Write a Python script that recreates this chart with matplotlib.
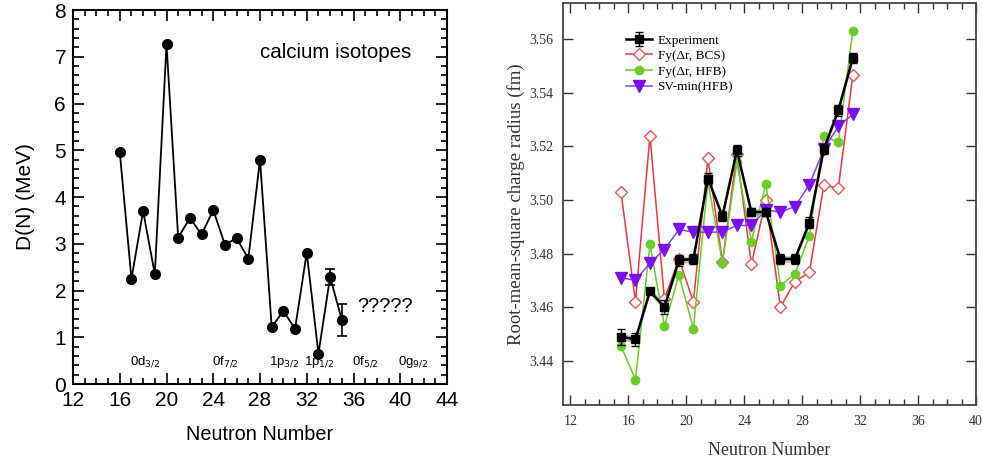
import matplotlib

matplotlib.use("Agg")
import matplotlib.pyplot as plt
import numpy as np
from matplotlib.ticker import MultipleLocator

# left panel: D(N) for calcium isotopes
n_left = [16, 17, 18, 19, 20, 21, 22, 23, 24, 25, 26, 27, 28, 29, 30, 31, 32, 33, 34, 35]
d_left = [4.97, 2.25, 3.70, 2.35, 7.27, 3.13, 3.55, 3.20, 3.72, 2.98, 3.12, 2.68,
          4.80, 1.22, 1.56, 1.18, 2.81, 0.65, 2.29, 1.37]
d_err = [0, 0, 0, 0, 0, 0, 0, 0, 0, 0, 0, 0, 0, 0, 0, 0, 0, 0, 0.17, 0.335]
shell_labels = [r"0d$_{3/2}$", r"0f$_{7/2}$", r"1p$_{3/2}$", r"1p$_{1/2}$", r"0f$_{5/2}$", r"0g$_{9/2}$"]
shell_pos = [18.2, 25.0, 30.1, 33.1, 37.0, 41.1]

# right panel: charge radii
n_right = [15.5, 16.5, 17.5, 18.5, 19.5, 20.5, 21.5, 22.5, 23.5, 24.5, 25.5, 26.5,
           27.5, 28.5, 29.5, 30.5, 31.5]
r_exp = [3.449, 3.448, 3.466, 3.460, 3.4775, 3.478, 3.508, 3.494, 3.5185, 3.4955,
         3.4955, 3.478, 3.478, 3.4915, 3.519, 3.5335, 3.553]
r_exp_err = [0.003, 0.0025, 0.001, 0.0025, 0.002, 0.002, 0.002, 0.002, 0.002, 0.0015,
             0.0015, 0.002, 0.002, 0.002, 0.002, 0.002, 0.002]
r_bcs = [3.503, 3.462, 3.524, 3.463, 3.478, 3.462, 3.5155, 3.477, 3.517, 3.476,
         3.500, 3.460, 3.4695, 3.473, 3.5055, 3.5045, 3.5465]
r_hfb = [3.4455, 3.433, 3.4835, 3.453, 3.472, 3.452, 3.507, 3.4765, 3.514, 3.4845,
         3.506, 3.468, 3.4725, 3.4865, 3.524, 3.5215, 3.563]
r_sv = [3.471, 3.470, 3.4765, 3.4815, 3.4890, 3.4880, 3.4880, 3.4880, 3.4905, 3.4905,
        3.4963, 3.4955, 3.4975, 3.5057, 3.519, 3.5275, 3.532]

fig = plt.figure(figsize=(9.82, 4.61), dpi=100)

# ---- left panel ----
ax1 = fig.add_axes([73 / 982, 1 - 384 / 461, 374 / 982, 374 / 461])
ax1.errorbar(n_left, d_left, yerr=d_err, color="black", lw=1.3, marker="o", ms=7,
             capsize=3.5, elinewidth=1.2, capthick=1.2)
ax1.set_xlim(12, 44)
ax1.set_ylim(0, 8)
ax1.xaxis.set_major_locator(MultipleLocator(4))
ax1.xaxis.set_minor_locator(MultipleLocator(1))
ax1.yaxis.set_major_locator(MultipleLocator(1))
ax1.yaxis.set_minor_locator(MultipleLocator(0.2))
ax1.tick_params(which="both", direction="in", top=True, right=True, width=1.2)
ax1.tick_params(which="major", length=8, labelsize=15, pad=5)
ax1.tick_params(which="minor", length=4)
for lbl in ax1.get_xticklabels() + ax1.get_yticklabels():
    lbl.set_family("Liberation Sans")
for s in ax1.spines.values():
    s.set_linewidth(1.5)
ax1.set_xlabel("Neutron Number", family="Liberation Sans", fontsize=14.3, labelpad=11)
ax1.set_ylabel("D(N) (MeV)", family="Liberation Sans", fontsize=15, labelpad=14)
for txt, x in zip(shell_labels, shell_pos):
    ax1.text(x, 0.47, txt, ha="center", va="center", fontsize=9.5, family="Liberation Sans")
ax1.text(34.5, 7.1, "calcium isotopes", ha="center", va="center", fontsize=14.8,
         family="Liberation Sans")
ax1.text(36.3, 1.65, "?????", ha="left", va="center", fontsize=14.5, family="Liberation Sans")

# ---- right panel ----
ax2 = fig.add_axes([563 / 982, 1 - 405 / 461, 413 / 982, 402 / 461])
ax2.fill_between(n_right, np.array(r_exp) - 0.0012, np.array(r_exp) + 0.0012,
                 color="#bbbbbb", lw=0, zorder=1)
ax2.plot(n_right, r_bcs, color="#e8383d", lw=1.1, marker="D", ms=6, mfc="white",
         mec="#e8555a", mew=1.0, label="Fy(Δr, BCS)", zorder=2)
ax2.plot(n_right, r_hfb, color="#6ccc2a", lw=1.1, marker="o", ms=6, mfc="#6ccc2a",
         mec="#6ccc2a", label="Fy(Δr, HFB)", zorder=3)
ax2.plot(n_right, r_sv, color="#9040e8", lw=1.1, marker="v", ms=9, mfc="#7a10f0",
         mec="#7a10f0", label="SV-min(HFB)", zorder=4)
ax2.errorbar(n_right, r_exp, yerr=r_exp_err, color="black", lw=1.8, marker="s", ms=6,
             capsize=3, elinewidth=1.0, capthick=1.0, label="Experiment", zorder=5)
ax2.set_xlim(11.5, 40)
ax2.set_ylim(3.4235, 3.5735)
ax2.set_xticks([12, 16, 20, 24, 28, 32, 36, 40])
ax2.xaxis.set_minor_locator(MultipleLocator(1))
ax2.set_yticks([3.44, 3.46, 3.48, 3.50, 3.52, 3.54, 3.56])
ax2.set_yticklabels(["3.44", "3.46", "3.48", "3.50", "3.52", "3.54", "3.56"])
ax2.tick_params(which="both", direction="in", top=True, right=True, width=1.0,
                color="#333333")
ax2.tick_params(which="major", length=7, labelsize=10, pad=7)
ax2.tick_params(which="minor", length=4)
for lbl in ax2.get_xticklabels() + ax2.get_yticklabels():
    lbl.set_family("Liberation Serif")
    lbl.set_color("#333333")
for s in ax2.spines.values():
    s.set_linewidth(1.3)
    s.set_color("#444444")
ax2.set_xlabel("Neutron Number", family="Liberation Serif", fontsize=13, color="#333333",
               labelpad=10)
ax2.set_ylabel("Root-mean-square charge radius (fm)", family="Liberation Serif",
               fontsize=13.5, color="#333333", labelpad=3)
h, l = ax2.get_legend_handles_labels()
order = [3, 0, 1, 2]
leg = ax2.legend([h[i] for i in order], [l[i] for i in order], loc="upper left",
                 bbox_to_anchor=(0.13, 0.945), frameon=False,
                 prop={"family": "Liberation Serif", "size": 9.5}, handlelength=2.0,
                 labelspacing=0.25, borderpad=0.2, handletextpad=0.4)

fig.savefig("out.png", dpi=100)
